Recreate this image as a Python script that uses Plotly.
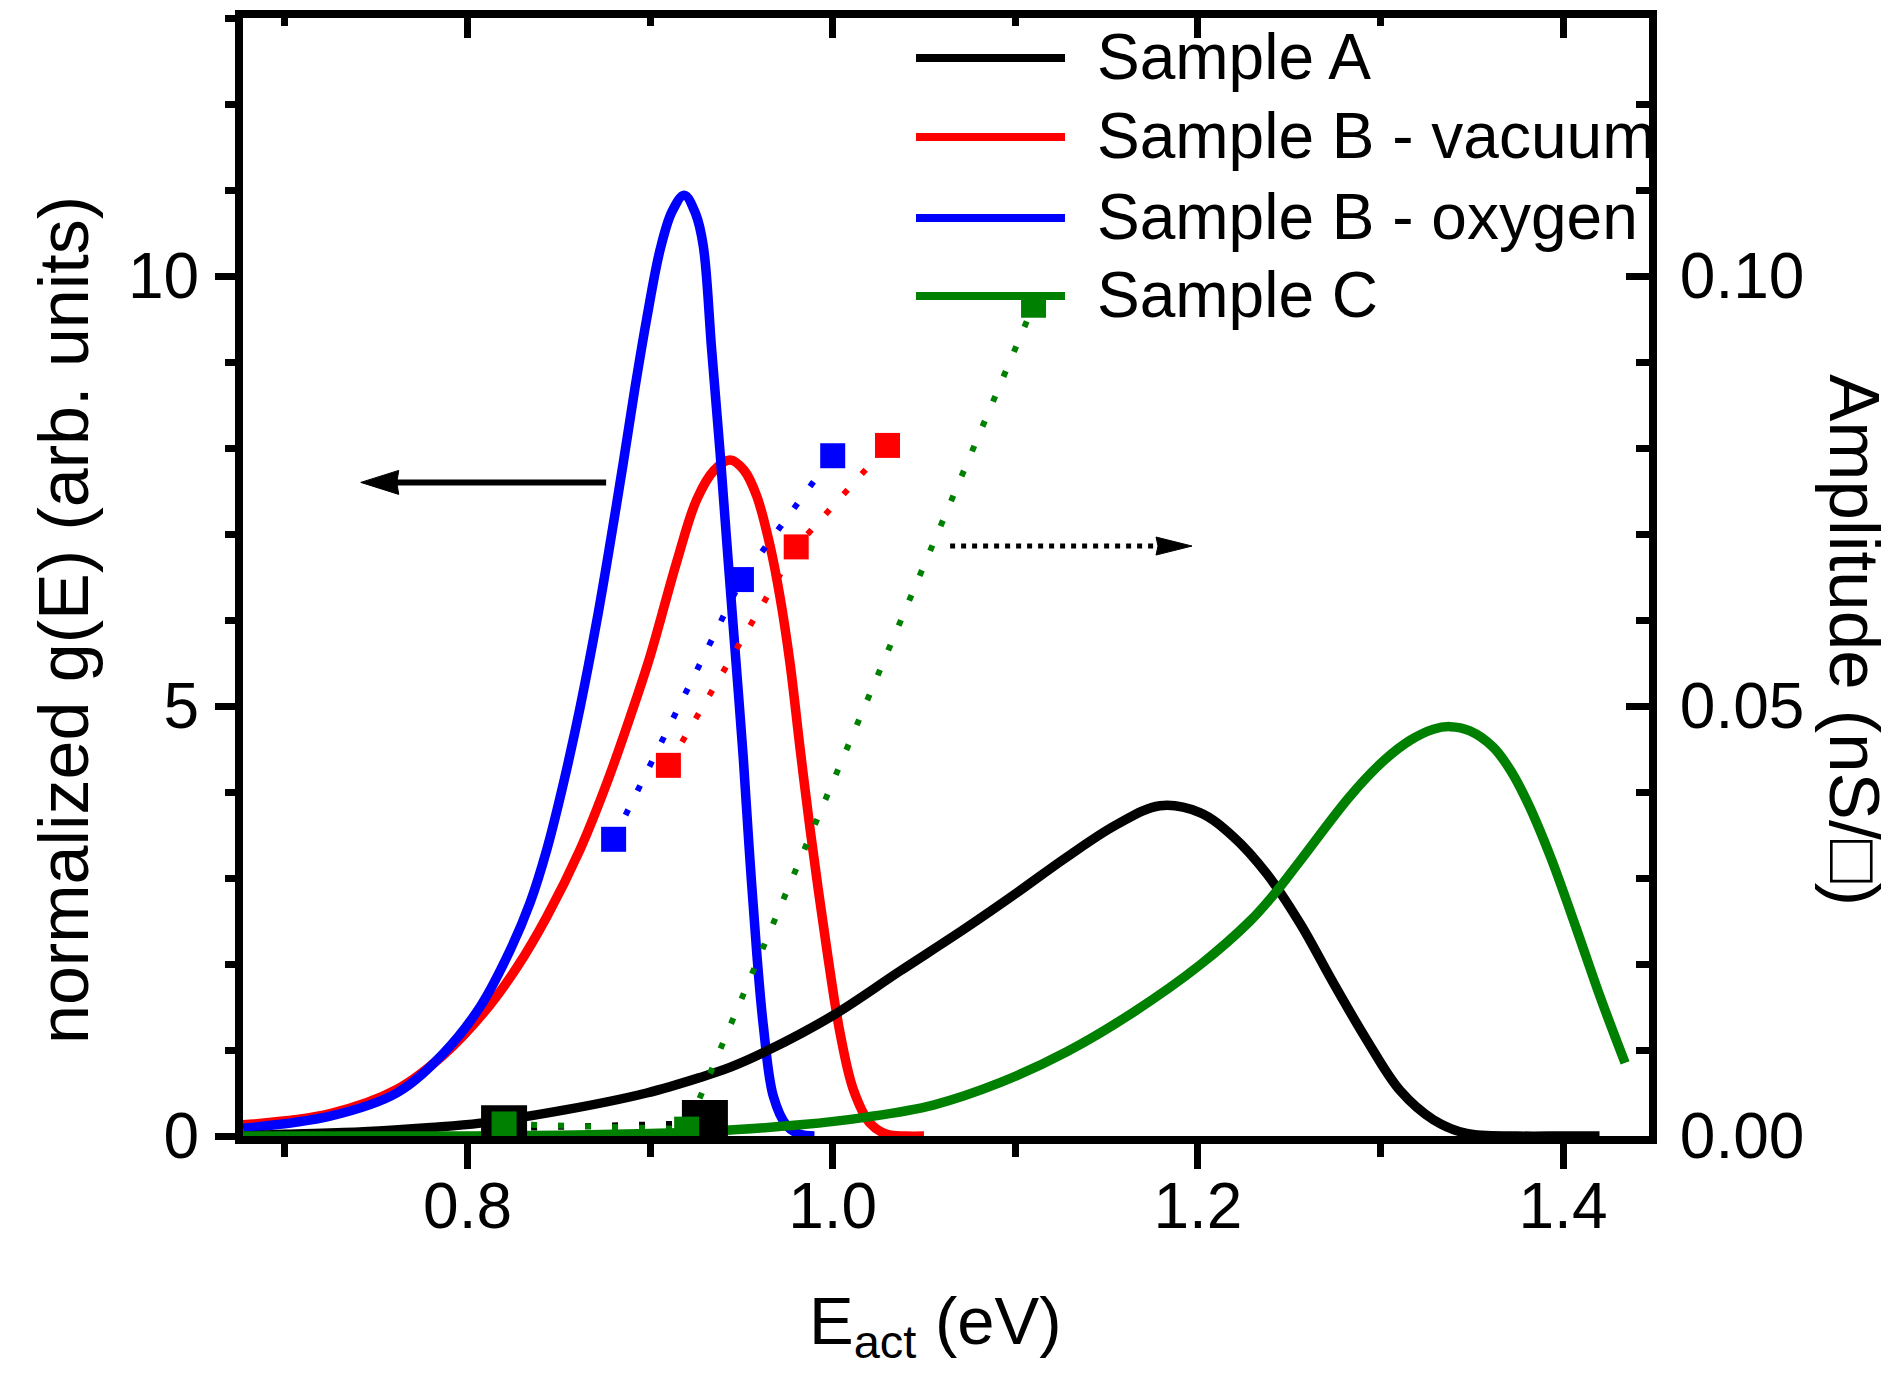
import plotly.graph_objects as go

# ---------------- data ----------------
E_A = [0.677, 0.70, 0.743, 0.78, 0.807, 0.8525, 0.8981, 0.9273, 0.944, 0.964, 1.0, 1.037, 1.073,
       1.101, 1.128, 1.1555, 1.1792, 1.2011, 1.2194, 1.2377, 1.256, 1.2742, 1.2924, 1.3107, 1.329,
       1.3472, 1.3746, 1.40, 1.42]
g_A = [0.0, 0.02, 0.05, 0.10, 0.15, 0.30, 0.50, 0.68, 0.80, 0.99, 1.40, 1.92, 2.42,
       2.83, 3.24, 3.62, 3.84, 3.76, 3.48, 3.05, 2.47, 1.78, 1.12, 0.53, 0.19,
       0.03, 0.0, 0.0, 0.0]

E_Bvac = [0.677, 0.7247, 0.7612, 0.7867, 0.8087, 0.827, 0.8434, 0.8616, 0.8762, 0.889, 0.900, 0.9146,
          0.9255, 0.935, 0.9438, 0.9515, 0.9584, 0.9657, 0.9711, 0.9766, 0.9821, 0.9876, 0.9967, 1.004,
          1.0113, 1.0204, 1.0296, 1.04, 1.05]
g_Bvac = [0.13, 0.26, 0.54, 0.94, 1.43, 1.96, 2.55, 3.33, 4.10, 4.87, 5.58, 6.68,
          7.40, 7.74, 7.86, 7.74, 7.44, 6.86, 6.27, 5.50, 4.51, 3.57, 2.18, 1.20,
          0.54, 0.15, 0.02, 0.0, 0.0]

E_Boxy = [0.677, 0.7247, 0.7612, 0.7867, 0.8068, 0.8233, 0.8342, 0.8434, 0.8525, 0.8616, 0.8707, 0.878,
          0.8853, 0.8917, 0.8981, 0.9054, 0.912, 0.9187, 0.925, 0.9291, 0.9337, 0.9383, 0.942, 0.9456,
          0.951, 0.9547, 0.9585, 0.962, 0.9675, 0.9748, 0.982, 0.99]
g_Boxy = [0.09, 0.23, 0.50, 0.96, 1.50, 2.16, 2.71, 3.33, 4.10, 4.98, 5.98, 6.88,
          7.83, 8.70, 9.50, 10.30, 10.75, 10.94, 10.72, 10.35, 9.14, 7.95, 6.90, 5.90,
          4.40, 3.20, 2.10, 1.28, 0.46, 0.12, 0.02, 0.0]

E_C = [0.677, 0.75, 0.80, 0.85, 0.90, 0.9273, 0.9821, 1.0186, 1.0551, 1.0916, 1.1282, 1.1647, 1.2012,
       1.2286, 1.2413, 1.256, 1.2833, 1.3016, 1.3162, 1.329, 1.3381, 1.349, 1.3618, 1.371, 1.3801,
       1.3929, 1.4075, 1.4203, 1.434]
g_C = [0.0, 0.0, 0.0, 0.01, 0.03, 0.05, 0.13, 0.22, 0.36, 0.62, 0.98, 1.44, 1.99,
       2.50, 2.80, 3.20, 3.95, 4.36, 4.60, 4.73, 4.76, 4.71, 4.52, 4.26, 3.90,
       3.26, 2.40, 1.62, 0.85]

# amplitudes (right axis, nS/square)
Ea_A = [0.82, 0.93]
amp_A = [0.0009, 0.0015]
Ea_Bvac = [0.91, 0.98, 1.03]
amp_Bvac = [0.0431, 0.0685, 0.0803]
Ea_Boxy = [0.88, 0.95, 1.00]
amp_Boxy = [0.0345, 0.0647, 0.0791]
Ea_C = [0.82, 0.92, 1.11]
amp_C = [0.0014, 0.0008, 0.0966]

names = ["Sample A", "Sample B - vacuum", "Sample B - oxygen", "Sample C"]
colors = ["#000000", "#FF0000", "#0000FF", "#008000"]

# arrows (data coordinates)
arrow_left = dict(x_tail=0.8759, x_tip=0.7415, y=7.60)
arrow_right = dict(x_tail=1.0643, x_tip=1.1968, y=6.86)

FONT = "Liberation Sans, Arial, sans-serif"
TICKF = 64
LEGF = 64

fig = go.Figure()

curve_sets = [(E_Bvac, g_Bvac, colors[1]), (E_Boxy, g_Boxy, colors[2]),
              (E_A, g_A, colors[0]), (E_C, g_C, colors[3])]
for xs, ys, c in curve_sets:
    fig.add_trace(go.Scatter(x=xs, y=ys, mode="lines",
                             line=dict(color=c, width=9.5, shape="spline", smoothing=1.0),
                             showlegend=False, hoverinfo="skip"))

dotdash = "6px,21px"
fig.add_trace(go.Scatter(x=Ea_A, y=amp_A, yaxis="y2", mode="lines+markers",
                         line=dict(color=colors[0], width=6, dash=dotdash),
                         marker=dict(symbol="square", size=46, color=colors[0]),
                         showlegend=False, hoverinfo="skip"))
for xs, ys, c in [(Ea_C, amp_C, colors[3]), (Ea_Bvac, amp_Bvac, colors[1]), (Ea_Boxy, amp_Boxy, colors[2])]:
    fig.add_trace(go.Scatter(x=xs, y=ys, yaxis="y2", mode="lines+markers",
                             line=dict(color=c, width=6, dash=dotdash),
                             marker=dict(symbol="square", size=25, color=c),
                             showlegend=False, hoverinfo="skip"))

# invisible trace to instantiate the top axis
fig.add_trace(go.Scatter(x=[1.0], y=[-5], xaxis="x2", mode="markers", marker=dict(opacity=0),
                         showlegend=False, hoverinfo="skip"))

xr = [0.677, 1.4471]
axis_common = dict(showgrid=False, zeroline=False, showline=True, linecolor="black", linewidth=8,
                   tickcolor="black", tickwidth=7, tickfont=dict(family=FONT, size=TICKF, color="black"))

# page has an 8px body margin; figure sized so it fits the window exactly
fig.update_layout(
    width=1889, height=1368,
    margin=dict(l=235, r=248, t=10, b=240),
    paper_bgcolor="white", plot_bgcolor="white",
    showlegend=False,
    font=dict(family=FONT, color="black"),
    xaxis=dict(range=xr, tick0=0.8, dtick=0.2, tickformat=".1f", ticks="outside", ticklen=25,
               ticklabelstandoff=-18,
               minor=dict(ticks="outside", ticklen=13, tickwidth=7, tickcolor="black", dtick=0.1),
               **axis_common),
    xaxis2=dict(range=xr, overlaying="x", side="top", anchor="y", tick0=0.8, dtick=0.2, ticks="inside",
                ticklen=20, showticklabels=False,
                minor=dict(ticks="inside", ticklen=8, tickwidth=7, tickcolor="black", dtick=0.1),
                **axis_common),
    yaxis=dict(range=[0, 13], tick0=0, dtick=5, ticks="outside", ticklen=20, ticklabelstandoff=3,
               minor=dict(ticks="outside", ticklen=10, tickwidth=7, tickcolor="black", dtick=1),
               **axis_common),
    yaxis2=dict(range=[0, 0.13], overlaying="y", side="right", anchor="x", tick0=0, dtick=0.05,
                tickformat=".2f", ticks="inside", ticklen=23, ticklabelstandoff=10,
                minor=dict(ticks="inside", ticklen=13, tickwidth=7, tickcolor="black", dtick=0.01),
                **axis_common),
)

# ------- arrows -------
shapes = []
shapes.append(dict(type="line", xref="x", yref="y", x0=arrow_left["x_tip"] + 0.01, x1=arrow_left["x_tail"],
                   y0=arrow_left["y"], y1=arrow_left["y"], line=dict(color="black", width=6)))
shapes.append(dict(type="path", xref="x", yref="y", xsizemode="pixel", ysizemode="pixel",
                   xanchor=arrow_left["x_tip"], yanchor=arrow_left["y"],
                   path="M0,0 L38,12 L36,0 L38,-12 Z", fillcolor="black", line=dict(color="black", width=1)))
shapes.append(dict(type="line", xref="x", yref="y", x0=arrow_right["x_tail"], x1=arrow_right["x_tip"] - 0.015,
                   y0=arrow_right["y"], y1=arrow_right["y"], line=dict(color="black", width=5, dash="5px,6px")))
shapes.append(dict(type="path", xref="x", yref="y", xsizemode="pixel", ysizemode="pixel",
                   xanchor=arrow_right["x_tip"], yanchor=arrow_right["y"],
                   path="M0,0 L-36,9 L-34,0 L-36,-9 Z", fillcolor="black", line=dict(color="black", width=1)))

# ------- legend (custom, long line samples); coordinates in page pixels -------
def px(x):
    return (x - 243) / 1406.0
def py(y):
    return (1136 - y) / 1118.0

leg_rows = [58, 137, 218, 296]
annotations = []
for name, c, yrow in zip(names, colors, leg_rows):
    shapes.append(dict(type="line", xref="paper", yref="paper", x0=px(916), x1=px(1065), y0=py(yrow), y1=py(yrow),
                       line=dict(color=c, width=8)))
    annotations.append(dict(text=name, xref="paper", yref="paper", x=px(1095), y=py(yrow - 1),
                            xanchor="left", yanchor="middle", showarrow=False,
                            font=dict(family=FONT, size=LEGF, color="black")))

# ------- axis titles -------
annotations.append(dict(text="normalized g(E) (arb. units)", xref="paper", yref="paper", x=px(64), y=py(620),
                        textangle=-90, xanchor="center", yanchor="middle", showarrow=False,
                        font=dict(family=FONT, size=70, color="black")))
annotations.append(dict(text="Amplitude (nS/\u25a1)", xref="paper", yref="paper", x=px(1855), y=py(640),
                        textangle=90, xanchor="center", yanchor="middle", showarrow=False,
                        font=dict(family=FONT, size=71, color="black")))
annotations.append(dict(text="E<sub>act</sub> (eV)", xref="paper", yref="paper", x=px(935), y=py(1325),
                        xanchor="center", yanchor="middle", showarrow=False,
                        font=dict(family=FONT, size=67, color="black")))

fig.update_layout(shapes=shapes, annotations=annotations)

fig.write_html("out.html")
